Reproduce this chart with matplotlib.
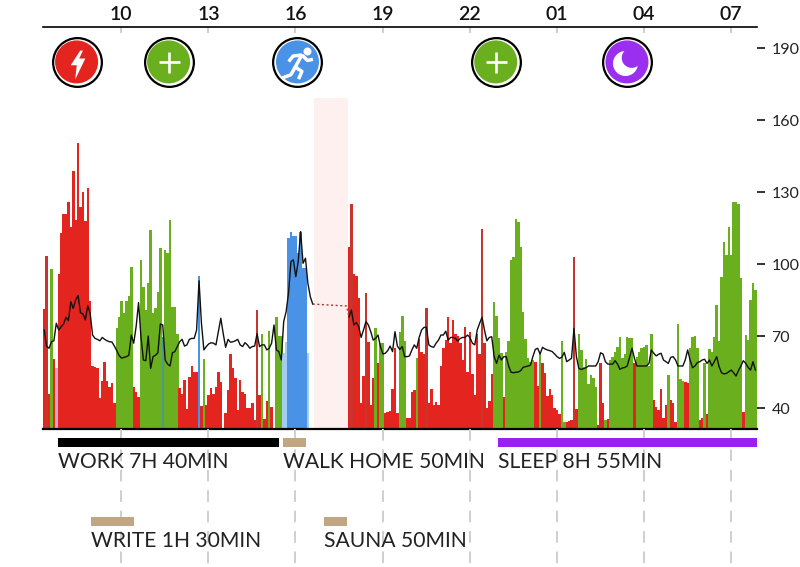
import numpy as np
import matplotlib
matplotlib.use('Agg')
import matplotlib.pyplot as plt
from matplotlib.path import Path

plt.rcParams['font.family'] = ['Lato', 'DejaVu Sans']

# one bar every 5 minutes, hours count past 24 for the next morning
start_hour = 7.303
step = 5 / 60
end_hour = 31.9

bar_values = [
    81.1, 103.3, 46, 97.8, 60.3, 56.5, 95.8, 112.8, 120.8, 120.8,
    126, 115.6, 138.9, 118.3, 150.6, 123.6, 130, 118, 131.5, 84.7,
    57.5, 57, 56.5, 44, 51.4, 59.3, 51.4, 48.9, 50.6, 42,
    73.2, 78, 84.7, 79.7, 84.7, 86.8, 98.6, 48.9, 46.8, 44.7,
    101.7, 90.6, 81, 92, 114.2, 79.4, 81.5, 88.5, 106.8, 69.7,
    105.8, 104.4, 118.3, 82, 82, 71, 48.2, 46, 51.7, 39.4,
    53, 57.5, 55.1, 55, 95, 40.8, 60.3, 41.3, 45.4, 48.2,
    46, 48.9, 55, 51, 0, 37.8, 47.5, 62.5, 56.5, 52.4,
    39.2, 51.7, 46.8, 45.8, 39.9, 40, 42, 35, 81, 45.4,
    70.8, 35.5, 43, 72, 40.5, 0, 78, 70, 70, 62.9,
    67.5, 110.7, 113.5, 111.7, 111.7, 104.4, 113.5, 98.2, 98.2, 63,
    0, 0, 0, 0, 0, 0, 0, 0, 0, 0, 0, 0, 0, 0, 0, 0,
    107, 124.9, 96, 95, 86, 42, 53.3, 88, 67.6, 41.3,
    52.4, 73.2, 58.6, 67, 67, 38, 38.4, 38.7, 48, 65,
    38, 71.8, 78.5, 68, 36, 36, 46.5, 47.5, 61, 68.6,
    63.5, 62.5, 81.5, 42, 48, 41.3, 42.6, 41.3, 57.5, 64.9,
    68.3, 78, 67, 76.7, 71, 70, 67, 60, 73.6, 55,
    71.8, 54.3, 45.4, 71, 62.5, 114.4, 67, 40, 43, 54,
    84.3, 78.5, 69, 63, 44.7, 63.5, 68, 101.7, 103, 118.6,
    117.6, 107.2, 80, 68.6, 61, 59, 60, 59.3, 49, 62.8,
    58.6, 54.7, 45, 48, 45.4, 39.9, 39.2, 37.4, 68, 34.3,
    34.3, 34.7, 35, 102.8, 39.5, 70.8, 64.2, 56.9, 60.3, 50,
    53.7, 52.4, 48.9, 32.8, 58.6, 42, 35, 35.3, 60, 61.4,
    63.5, 65.3, 69.5, 61, 62.5, 69.5, 69, 69, 58.9, 61.4,
    63.5, 64.9, 65.6, 66.3, 57.5, 71, 43.3, 40.5, 39.2, 47.8,
    36, 41.3, 53.7, 43.3, 42, 34, 75, 52, 51.4, 51,
    50.6, 64.9, 69.7, 70, 64.9, 35, 36, 58.6, 37.5, 64.4,
    63.5, 69.5, 82.9, 68, 94.7, 109.3, 103.8, 115.3, 103.8, 125.9,
    125.9, 125, 94, 38.5, 70.4, 68.3, 85, 92, 89,
]

# r stress, g recovery, b exercise, l/p/t pale in-between bars, n nothing
bar_kinds = (
    "rRrgrprrrr" "rrrrrrrrrr" "rrrrrrrrrr" "gggggggrrr" "gggggggggt"
    "ggggggrrrr" "rrrrbrgrrr" "rrrrnrrrrr" "rrrrrrrrRr" "grrgrngggl"
    "lbbbbbbbbl" "nnnnnnnnnnnnnnnn"
    "rRrrrrrRrr" "rgrggrrrrr" "rgggrrrrgr" "rrRrrrrrrr" "rrrrrrrrrr"
    "rrrrrRrrrr" "ggggrggggg" "gggggggrrg" "rrrrrrrrgg" "rrrRrggggg"
    "gggrrrgrgg" "ggggggggrg" "ggggggrrrr" "rrgrrrgggr" "rggggrrgrg"
    "gggggggggg" "gggrggggg"
)

nan = float('nan')
heart_rate = [
    72.5, 65.6, 64.9, 67.6, 68, 75.3, 72.5, 73.9, 75, 77.8,
    76.4, 84.3, 81.5, 85, 86.8, 79.7, 79.2, 76.7, 82.6, 79.4,
    70.4, 69, 68.6, 68, 69.4, 68.6, 68, 67.6, 67.5, 65.8,
    63.9, 61.8, 60.8, 61.1, 61.4, 62, 70.4, 67, 73.9, 83.9,
    69.7, 60, 59.7, 70, 56.5, 61.4, 62, 63, 75, 74.6,
    60, 58.3, 57.5, 63, 63.5, 65.6, 67.6, 68.6, 65.8, 66.3,
    68.6, 69, 69, 72.5, 93, 75.3, 64.2, 65.6, 66.7, 67.2,
    67, 66.3, 71.8, 77.4, 71, 65.3, 68.6, 67.4, 67.6, 68,
    68.6, 66.3, 65.6, 67.2, 66.3, 64.9, 65.6, 65.8, 71, 65.6,
    66.3, 66.3, 64.2, 64.9, 67, 74.6, 64.2, 63.5, 60, 76,
    80.1, 87.8, 101, 101.7, 94.7, 101, 113.5, 100.3, 102.4, 92,
    86.4, 83.3, nan, nan, nan, nan, nan, nan, nan, nan,
    nan, nan, nan, nan, nan, nan, 78, 80.8, 74.6, 75.6, 73.9,
    69.4, 72.5, 76, 74.6, 71.8, 68.3, 69, 70.4, 65.6, 62.5,
    62.8, 63.9, 65.8, 63.5, 71.8, 65.8, 64.4, 65.6, 61.4, 61.4,
    61.7, 64.2, 66.3, 64.9, 69.4, 72.5, 73.6, 73.6, 66.3, 65.6,
    65.3, 67, 68.3, 70.4, 70.4, 72, 68.3, 69.4, 69.4, 69,
    67.9, 69, 69.4, 69.4, 70.4, 69.4, 67, 66.3, 72.5, 75.3,
    77.8, 72.5, 68, 69.4, 69.7, 61.4, 58.6, 62, 60, 61.4,
    61.4, 57.5, 54.9, 54.7, 54.9, 55, 55.6, 57, 57.2, 57.5,
    57.8, 61.4, 64.4, 64.9, 62.5, 65.3, 64.6, 64.2, 63.9, 63.5,
    62.5, 61.4, 60.7, 61.1, 63.2, 59.3, 60, 60.7, 73.2, 61.4,
    56.5, 56.1, 56.4, 56.8, 57.5, 57.5, 57.5, 57.5, 59.3, 63,
    62.5, 59.3, 58.3, 58.3, 58.3, 59.7, 58.3, 56.1, 56.7, 56.9,
    57.5, 61.1, 64.9, 60.7, 57.5, 57.5, 57.5, 57.5, 57.5, 58.6,
    64.2, 62.8, 61.7, 62.4, 62.8, 60, 59.3, 58.6, 61.1, 61.4,
    60, 57.5, 57.5, 57.5, 60, 64.2, 60, 56.8, 57.5, 58.9,
    59.3, 60, 60.3, 58.6, 60, 57.5, 59.3, 61.4, 57.2, 54.7,
    54.2, 54.4, 55.1, 55.8, 54.7, 53.3, 55.6, 57.5, 59.7, 58.6,
    56.9, 55.8, 59.3, 55.8,
]
gap_index = [111, 125, 126]
gap_rate = [83.3, 82.5, 78]

hour_ticks = [10, 13, 16, 19, 22, 25, 28, 31]
hour_labels = ['10', '13', '16', '19', '22', '01', '04', '07']
bpm_ticks = [40, 70, 100, 130, 160, 190]

missing_span = (16.64, 17.81)
missing_top = 169.2

activity_names = ['WORK 7H 40MIN', 'WALK HOME 50MIN', 'SLEEP 8H 55MIN', 'WRITE 1H 30MIN', 'SAUNA 50MIN']
activity_start = [7.82, 15.56, 22.97, 8.96, 16.98]
activity_end = [15.43, 16.36, 31.9, 10.44, 17.78]
activity_row = [0, 0, 0, 1, 1]
activity_color = ['#000000', '#c2a582', '#9a1ff0', '#c2a582', '#c2a582']

event_hours = [8.46, 11.63, 16.07, 22.9, 27.42]
event_kinds = ['stress', 'plus', 'run', 'plus', 'moon']

kind_color = {'r': '#e3241f', 'R': '#c8352c', 'g': '#6ab01e', 'b': '#4a92e6',
              'l': '#a4cdf2', 'p': '#c9a9d6', 't': '#4c9c8c', 'n': '#ffffff'}
event_color = {'stress': '#e3241f', 'plus': '#6ab01e', 'run': '#4a92e6', 'moon': '#9a2ff0'}

W, H = 800, 567
fig = plt.figure(figsize=(W / 100, H / 100), dpi=100)
ax = fig.add_axes([43 / W, 1 - 429 / H, 714 / W, 402 / H])
ax2 = fig.add_axes([43 / W, 0, 714 / W, 1 - 429 / H])

# pink block where the measurement dropped out
ax.bar(missing_span[0], missing_top, width=missing_span[1] - missing_span[0], align='edge',
       color='#fdf0ee', linewidth=0, zorder=1)

bar_x = start_hour + np.arange(len(bar_values)) * step
ax.bar(bar_x, bar_values, width=step * 1.03, align='edge', linewidth=0,
       color=[kind_color[k] for k in bar_kinds], zorder=2)

line_x = start_hour + (np.arange(len(heart_rate)) + 0.5) * step
ax.plot(line_x, heart_rate, color='#111111', lw=1.0, zorder=3)
ax.plot(start_hour + (np.array(gap_index) + 0.5) * step, gap_rate, color='#a83a3a', lw=1.0,
        ls=(0, (1.5, 1.8)), zorder=3)

ax.set_xlim(start_hour, end_hour)
ax.set_ylim(31.25, 198.75)
ax.xaxis.tick_top()
ax.yaxis.tick_right()
ax.set_xticks(hour_ticks)
ax.set_xticklabels(hour_labels, fontsize=14, fontweight='semibold', color='#111111')
ax.set_yticks(bpm_ticks)
ax.tick_params(axis='x', direction='in', length=4.5, width=1.5, color='#d0d0d0', pad=3)
ax.tick_params(axis='y', length=6, width=1.2, color='#111111', labelsize=11.5, labelcolor='#222222', pad=4.5)
ax.spines['left'].set_visible(False)
ax.spines['right'].set_visible(False)
ax.spines['top'].set_linewidth(1.2)
ax.spines['bottom'].set_linewidth(1.6)
ax.spines['bottom'].set_zorder(5)

# glyphs for the event badges, these are only icon shapes
bolt = Path([(2.7, 11.7), (-6.7, -2.7), (-0.7, -2.7), (-2.3, -16.7), (7.7, 3.9), (1.7, 3.9), (5.3, 11.7), (2.7, 11.7)], closed=True)
a = np.radians(np.linspace(94.8, 349.2, 50))
b = np.radians(np.linspace(-52.9, -223.1, 40))
moon = Path(np.vstack([np.c_[np.cos(a), np.sin(a)], np.c_[0.5 + 0.8 * np.cos(b), 0.45 + 0.8 * np.sin(b)]]), closed=True)
limbs = Path([(4, 7), (-2, -4), (4, -8), (1, -15), (-2, -4), (-6, -11), (-14, -14), (4, 7), (9, 2), (14, 3), (4, 7), (-4, 6), (-8, 1)],
             [1, 2, 2, 2, 1, 2, 2, 1, 2, 2, 1, 2, 2])

badge_y = 184.2
ax.scatter(event_hours, [badge_y] * 5, s=(51 * 0.72) ** 2, c='black', linewidths=0, zorder=4, clip_on=False)
ax.scatter(event_hours, [badge_y] * 5, s=(46.5 * 0.72) ** 2, c='white', linewidths=0, zorder=4, clip_on=False)
ax.scatter(event_hours, [badge_y] * 5, s=(43 * 0.72) ** 2, c=[event_color[k] for k in event_kinds], linewidths=0, zorder=4, clip_on=False)
for hour, kind in zip(event_hours, event_kinds):
    if kind == 'stress':
        ax.scatter([hour], [badge_y], marker=bolt, s=(34 * 0.72) ** 2, c='white', linewidths=0, zorder=5)
    elif kind == 'plus':
        ax.scatter([hour], [badge_y], marker='+', s=(21 * 0.72) ** 2, c='white', linewidths=1.9, zorder=5)
    elif kind == 'moon':
        ax.scatter([hour - 0.07], [badge_y - 0.4], marker=moon, s=(25 * 0.72) ** 2, c='white', linewidths=0, zorder=5)
    else:
        ax.scatter([hour], [badge_y - 0.3], marker=limbs, s=(33 * 0.72) ** 2, facecolors='none', edgecolors='white', linewidths=2.5, zorder=5)
        ax.scatter([hour + 9.5 / 29.03], [badge_y + 11 / 2.4], s=(8 * 0.72) ** 2, c='white', linewidths=0, zorder=5)

# lower panel in pixels below the baseline
ax2.set_xlim(start_hour, end_hour)
ax2.set_ylim(138, 0)
ax2.axis('off')
for h in hour_ticks:
    ax2.plot([h, h], [0, 138], color='#cfcfcf', lw=1.4, ls=(0, (6, 4.5)), zorder=1)
for name, t0, t1, row, col in zip(activity_names, activity_start, activity_end, activity_row, activity_color):
    y = 13.5 + row * 79
    ax2.barh(y, t1 - t0, left=t0, height=8.5, color=col, linewidth=0, zorder=2)
    ax2.text(t0, y + 19.5, name, fontsize=15.2, color='#222222', va='center', ha='left', zorder=3)

fig.savefig('out.png', dpi=100)
